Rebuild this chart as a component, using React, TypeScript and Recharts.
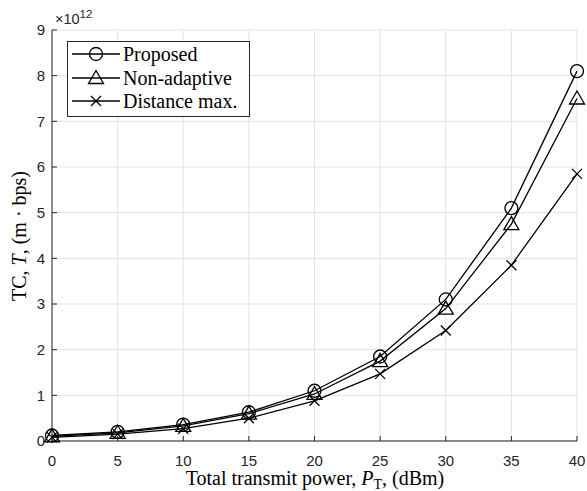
import React from 'react';
import { LineChart, Line, XAxis, YAxis, CartesianGrid, Legend, Label } from 'recharts';

// total transmit power (dBm)
const powerDbm = [0, 5, 10, 15, 20, 25, 30, 35, 40];
// TC values, in units of 10^12 m·bps
const proposed = [0.12, 0.2, 0.36, 0.63, 1.1, 1.85, 3.1, 5.1, 8.1];
const nonAdaptive = [0.1, 0.18, 0.33, 0.6, 1.03, 1.75, 2.9, 4.75, 7.5];
const distanceMax = [0.08, 0.15, 0.27, 0.5, 0.88, 1.47, 2.42, 3.85, 5.85];

const xTicks = [0, 5, 10, 15, 20, 25, 30, 35, 40];
const yTicks = [0, 1, 2, 3, 4, 5, 6, 7, 8, 9];

const seriesNames = ['Proposed', 'Non-adaptive', 'Distance max.'];
const seriesKeys = ['proposed', 'nonAdaptive', 'distanceMax'];
const seriesMarkers = ['circle', 'triangle', 'cross'];

const data = powerDbm.map((p, i) => ({
  p,
  proposed: proposed[i],
  nonAdaptive: nonAdaptive[i],
  distanceMax: distanceMax[i],
}));

const AX = '#262626';
const SERIF = '"Liberation Serif", "DejaVu Serif", serif';
const SANS = '"Liberation Sans", Arial, sans-serif';

function Marker({ cx, cy, kind }: { cx: number; cy: number; kind: string }) {
  const common = { fill: 'none', stroke: '#000', strokeWidth: 1.3 };
  if (kind === 'circle') return <circle cx={cx} cy={cy} r={6.5} {...common} />;
  if (kind === 'triangle')
    return (
      <polygon
        points={`${cx},${cy - 7.5} ${cx - 7.5},${cy + 5.5} ${cx + 7.5},${cy + 5.5}`}
        {...common}
      />
    );
  return (
    <path
      d={`M${cx - 5},${cy - 5}L${cx + 5},${cy + 5}M${cx - 5},${cy + 5}L${cx + 5},${cy - 5}`}
      {...common}
    />
  );
}

// legend frame: 67..249 x 41..116
function LegendBox() {
  const rows = [13, 37, 60];
  return (
    <svg width={183} height={76} style={{ display: 'block', overflow: 'visible' }}>
      <rect x={0.5} y={0.5} width={182} height={75} fill="#fff" stroke={AX} strokeWidth={1} />
      {seriesNames.map((n, i) => {
        const y = rows[i];
        return (
          <g key={n}>
            <line x1={5} x2={53} y1={y} y2={y} stroke="#000" strokeWidth={1.3} />
            <Marker cx={29} cy={y} kind={seriesMarkers[i]} />
            <text x={56} y={y + 6.5} fontFamily={SERIF} fontSize={20} fill="#000">
              {n}
            </text>
          </g>
        );
      })}
    </svg>
  );
}

function YTitle() {
  return (
    <g>
      <text
        transform="translate(26,236) rotate(-90)"
        textAnchor="middle"
        fontFamily={SERIF}
        fontSize={20}
        fill="#000"
      >
        TC, <tspan fontStyle="italic">T</tspan>, (m · bps)
      </text>
      <text x={55} y={24} fontFamily={SANS} fontSize={14.5} fill={AX}>
        ×10
        <tspan fontSize={11.5} dy={-6}>
          12
        </tspan>
      </text>
    </g>
  );
}

function XTitle() {
  return (
    <text x={315} y={485} textAnchor="middle" fontFamily={SERIF} fontSize={20} fill="#000">
      Total transmit power, <tspan fontStyle="italic">P</tspan>
      <tspan fontSize={14} dy={4}>
        T
      </tspan>
      <tspan dy={-4}>, (dBm)</tspan>
    </text>
  );
}

export default function App() {
  return (
    <div style={{ position: 'absolute', left: 0, top: 0, width: 587, height: 491, background: '#fff' }}>
      <LineChart width={587} height={491} data={data} margin={{ top: 30, right: 10, left: 0, bottom: 0 }}>
        <CartesianGrid stroke="#e3e3e3" strokeWidth={1} />
        <XAxis
          dataKey="p"
          type="number"
          domain={[0, 40]}
          ticks={xTicks}
          height={50}
          stroke={AX}
          tickSize={-5}
          tickMargin={19}
          tick={{ fontFamily: SANS, fontSize: 15, fill: AX }}
        >
          <Label content={() => <XTitle />} />
        </XAxis>
        <XAxis
          xAxisId="top"
          orientation="top"
          dataKey="p"
          type="number"
          domain={[0, 40]}
          ticks={xTicks}
          height={0}
          stroke={AX}
          tickSize={-5}
          tick={false}
        />
        <YAxis
          type="number"
          domain={[0, 9]}
          ticks={yTicks}
          width={52}
          stroke={AX}
          tickSize={-5}
          tickMargin={12}
          tick={{ fontFamily: SANS, fontSize: 15, fill: AX }}
        >
          <Label content={() => <YTitle />} />
        </YAxis>
        <YAxis
          yAxisId="right"
          orientation="right"
          type="number"
          domain={[0, 9]}
          ticks={yTicks}
          width={0}
          stroke={AX}
          tickSize={-5}
          tick={false}
        />
        <Legend
          layout="vertical"
          align="center"
          verticalAlign="middle"
          wrapperStyle={{ position: 'absolute', left: 67, top: 41, width: 183, height: 76 }}
          content={() => <LegendBox />}
        />
        {seriesKeys.map((k, i) => (
          <Line
            key={k}
            dataKey={k}
            name={seriesNames[i]}
            stroke="#000"
            strokeWidth={1.3}
            isAnimationActive={false}
            dot={(props: any) => (
              <Marker key={`${k}-${props.index}`} cx={props.cx} cy={props.cy} kind={seriesMarkers[i]} />
            )}
            activeDot={false}
          />
        ))}
      </LineChart>
    </div>
  );
}
